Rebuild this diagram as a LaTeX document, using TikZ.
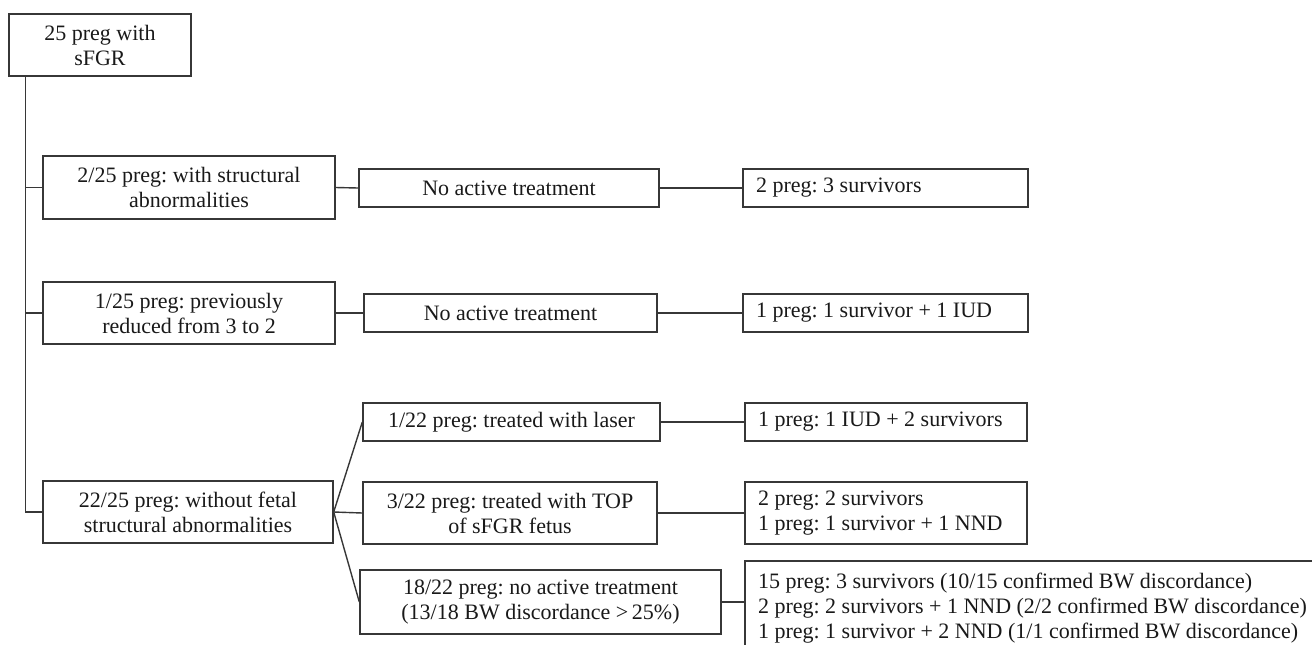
\documentclass[tikz,border=0pt]{standalone}
\usepackage{fontspec}
\setmainfont{Liberation Serif}
\usepackage{xcolor}
\definecolor{lineGray}{RGB}{55,55,55}
\frenchspacing

\begin{document}
\begin{tikzpicture}[x=0.5pt,y=-0.5pt,
        box/.style={draw=lineGray,line width=0.7pt,inner sep=0pt,align=center,
            font=\fontsize{11}{12.5}\selectfont,text=black!90},
        leftbox/.style={box,align=flush left,inner xsep=6.5pt,text width=#1},
        link/.style={lineGray,line width=0.7pt}]
        \useasboundingbox (0,0) rectangle (1312,644);
        % first column
        \node[box,minimum width=91pt,minimum height=31pt] (root) at (100,45) {25 preg with\\sFGR};
        \node[box,minimum width=146pt,minimum height=31.5pt] (struct) at (189,187.5) {2/25 preg: with structural\\abnormalities};
        \node[box,minimum width=146pt,minimum height=31pt] (reduced) at (189,313) {1/25 preg: previously\\reduced from 3 to 2};
        \node[box,minimum width=145pt,minimum height=31pt] (nofetal) at (188,512) {22/25 preg: without fetal\\structural abnormalities};

        % treatment
        \node[box,minimum width=150pt,minimum height=19pt] (noTreatA) at (509,188) {No active treatment};
        \node[box,minimum width=146.5pt,minimum height=19pt] (noTreatB) at (510.5,313) {No active treatment};
        \node[box,minimum width=148.5pt,minimum height=19pt] (laser) at (511.5,422) {1/22 preg: treated with laser};
        \node[box,minimum width=147pt,minimum height=31pt] (top) at (510,513) {3/22 preg: treated with TOP\\of sFGR fetus};
        \node[box,minimum width=180.5pt,minimum height=32pt] (noTreatC) at (540.5,602) {18/22 preg: no active treatment\\(13/18 BW discordance >\,25\%)};

        % outcome
        \node[leftbox=129.5pt,minimum height=19pt] (outA) at (885.5,188) {2 preg: 3 survivors};
        \node[leftbox=129.5pt,minimum height=19pt] (outB) at (885.5,313) {1 preg: 1 survivor + 1 IUD};
        \node[leftbox=128pt,minimum height=19pt] (outLaser) at (886,422) {1 preg: 1 IUD + 2 survivors};
        \node[leftbox=128pt,minimum height=31pt] (outTop) at (886,513) {2 preg: 2 survivors\\1 preg: 1 survivor + 1 NND};
        \node[leftbox=305pt,minimum height=47pt] (outC) at (1063,608) {15 preg: 3 survivors (10/15 confirmed BW discordance)\\2 preg: 2 survivors + 1 NND (2/2 confirmed BW discordance)\\1 preg: 1 survivor + 2 NND (1/1 confirmed BW discordance)};

        % connectors
        \coordinate (trunk) at ([xshift=8.5pt]root.south west);
        \draw[link] (trunk) |- (nofetal.west);
        \draw[link] (trunk |- struct.west) -- (struct.west);
        \draw[link] (trunk |- reduced.west) -- (reduced.west);
        \draw[link] (struct.east) -- (noTreatA.west);
        \draw[link] (reduced.east) -- (noTreatB.west);
        \draw[link] (noTreatA.east) -- (outA.west);
        \draw[link] (noTreatB.east) -- (outB.west);
        \foreach \n in {laser,top,noTreatC}
            \draw[link] (nofetal.east) -- (\n.west);
        \draw[link] (laser.east) -- (outLaser.west);
        \draw[link] (top.east) -- (outTop.west);
        \draw[link] (noTreatC.east) -- (noTreatC.east -| outC.west);
    \end{tikzpicture}
\end{document}
